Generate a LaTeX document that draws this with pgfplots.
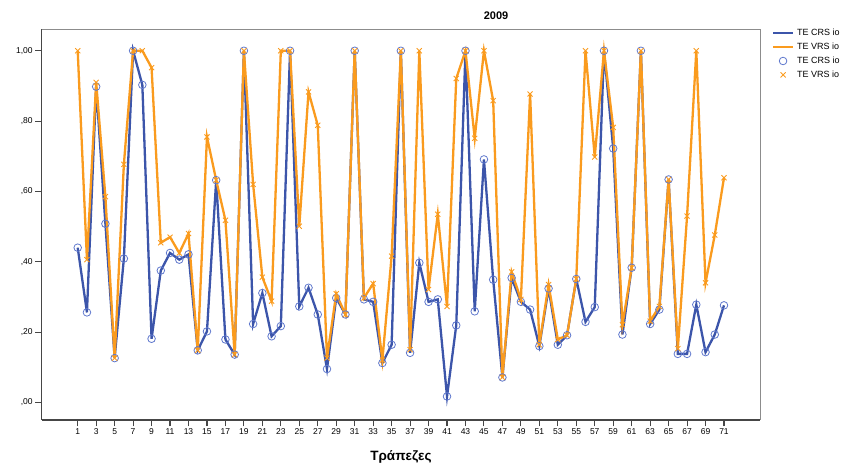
\documentclass[border=0pt]{standalone}
\usepackage{pgfplots}
\pgfplotsset{compat=1.18}
\usepackage{pgfplotstable}
\usepackage{fontspec}
\setmainfont{Liberation Sans}
\definecolor{crs}{RGB}{60,85,170}
\definecolor{crsm}{RGB}{95,120,205}
\definecolor{vrs}{RGB}{250,155,30}
\definecolor{axdark}{RGB}{70,70,70}
\definecolor{axlight}{RGB}{140,140,140}
\pgfplotstableread{
x crs vrs
1 0.440 1.000
2 0.256 0.406
3 0.898 0.910
4 0.508 0.585
5 0.126 0.126
6 0.409 0.677
7 1.000 1.000
8 0.903 1.000
9 0.181 0.952
10 0.375 0.454
11 0.425 0.470
12 0.406 0.425
13 0.421 0.480
14 0.148 0.148
15 0.202 0.755
16 0.632 0.632
17 0.179 0.518
18 0.136 0.136
19 1.000 1.000
20 0.223 0.620
21 0.311 0.356
22 0.188 0.288
23 0.217 1.000
24 1.000 1.000
25 0.273 0.501
26 0.326 0.883
27 0.250 0.788
28 0.095 0.126
29 0.297 0.309
30 0.250 0.250
31 1.000 1.000
32 0.293 0.297
33 0.286 0.338
34 0.112 0.120
35 0.164 0.416
36 1.000 1.000
37 0.141 0.150
38 0.397 1.000
39 0.286 0.321
40 0.293 0.535
41 0.017 0.273
42 0.219 0.921
43 1.000 1.000
44 0.259 0.751
45 0.691 1.000
46 0.349 0.858
47 0.071 0.071
48 0.354 0.371
49 0.286 0.293
50 0.264 0.877
51 0.160 0.164
52 0.324 0.335
53 0.164 0.179
54 0.191 0.191
55 0.351 0.351
56 0.229 1.000
57 0.271 0.698
58 1.000 1.000
59 0.722 0.782
60 0.193 0.221
61 0.383 0.383
62 1.000 1.000
63 0.223 0.231
64 0.264 0.273
65 0.634 0.634
66 0.138 0.153
67 0.138 0.530
68 0.278 1.000
69 0.143 0.340
70 0.193 0.476
71 0.276 0.639
}\data
\pgfplotsset{
  myleg/.style={legend image code/.code={\draw[mark repeat=2,mark phase=2,##1] plot coordinates {(0pt,0pt) (10pt,0pt) (20pt,0pt)};}}
}
\begin{document}
\begin{tikzpicture}[x=1pt,y=1pt]
\useasboundingbox (0,0) rectangle (843,468);
\begin{axis}[
  at={(41.7pt,48pt)}, anchor=south west,
  scale only axis, width=718.3pt, height=390.7pt,
  xmin=-2.9, xmax=74.9, ymin=-0.05, ymax=1.061,
  axis x line*=bottom, axis y line*=left,
  axis line style={-, draw=axdark, line width=1.4pt},
  xtick={1,3,...,71},
  ytick={0,0.2,0.4,0.6,0.8,1},
  yticklabels={{,00},{,20},{,40},{,60},{,80},{1,00}},
  tick align=outside, major tick length=6.5pt,
  tick style={draw=axdark, line width=1.1pt},
  ticklabel style={font=\fontsize{8.5}{8.5}\selectfont},
  xticklabel style={yshift=1pt},
  yticklabel style={xshift=1pt},
  /pgf/number format/assume math mode=true,
  clip=false,
  legend cell align=left,
  legend style={draw=none, fill=none, at={(1,1)}, anchor=north west,
    xshift=11.7pt, yshift=0.5pt, inner sep=0pt, column sep=3pt, row sep=5.5pt,
    font=\fontsize{9}{9}\selectfont,
    nodes={inner sep=0pt, text height=6.5pt, text depth=1.9pt}},
]
\draw[axlight, line width=1pt] (rel axis cs:0,1) -- (rel axis cs:1,1) -- (rel axis cs:1,0);
\addplot[crs, line width=2.3pt, no marks, myleg] table[x=x, y=crs] {\data};
\addlegendentry{TE CRS io}
\addplot[vrs, line width=2.3pt, no marks, myleg] table[x=x, y=vrs] {\data};
\addlegendentry{TE VRS io}
\addplot[only marks, mark=o, mark size=3.8pt, mark options={draw=crsm, line width=0.8pt}, myleg] table[x=x, y=crs] {\data};
\addlegendentry{TE CRS io}
\addplot[only marks, mark=x, mark size=3.6pt, mark options={draw=vrs, line width=0.9pt}, myleg] table[x=x, y=vrs] {\data};
\addlegendentry{TE VRS io}
\end{axis}
\node[font=\bfseries\fontsize{11}{11}\selectfont] at (496,452) {2009};
\node[font=\bfseries\fontsize{13.5}{13.5}\selectfont, anchor=base] at (401,7.3) {Τράπεζες};
\end{tikzpicture}
\end{document}
